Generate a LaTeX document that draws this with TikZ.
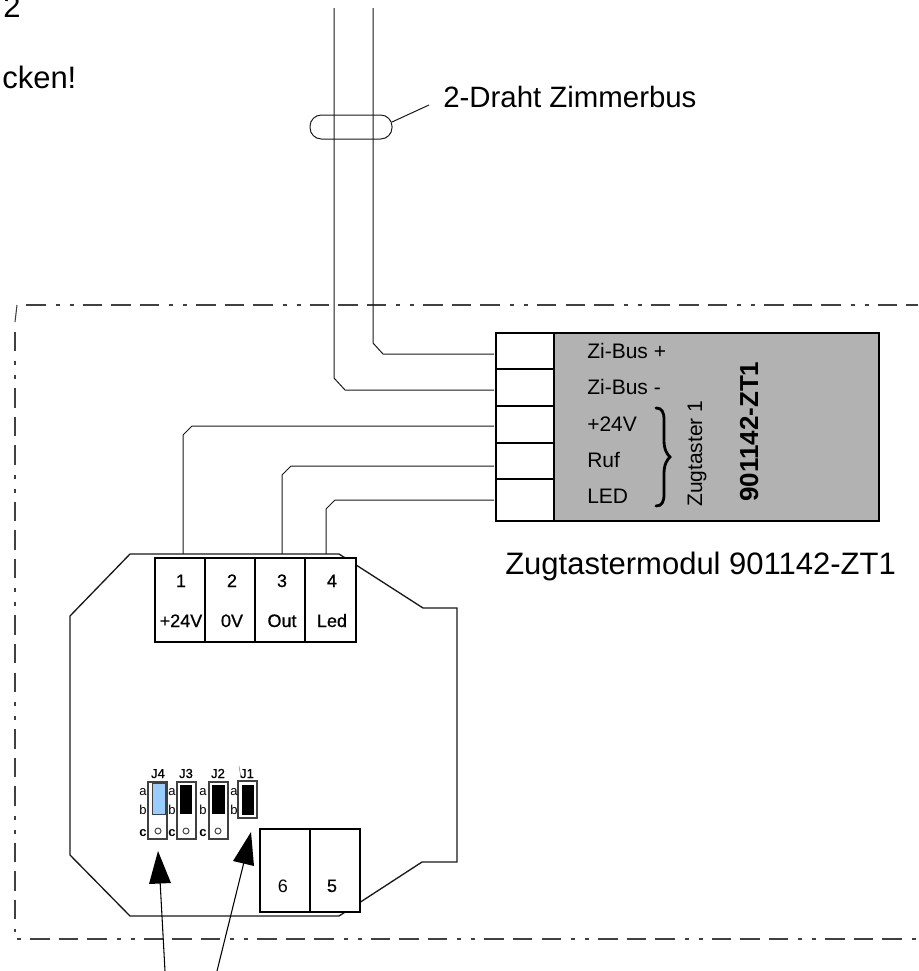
\documentclass[tikz,border=0pt]{standalone}
\usepackage{fontspec}
\setmainfont{Liberation Sans}
\newfontfamily\semifont[FakeBold=0.7]{Liberation Sans}
\newcommand{\pxf}[1]{\fontsize{\dimexpr#1pt*3/4\relax}{\dimexpr#1pt*9/10\relax}\selectfont}
\definecolor{modgray}{HTML}{B2B2B2}
\definecolor{jblue}{HTML}{99CCFF}
\definecolor{linegray}{HTML}{404040}
\tikzset{
  wire/.style={draw=black!90,line width=0.75pt},
  outline/.style={draw=black!90,line width=1pt},
  frameline/.style={draw=linegray,line width=0.8pt,dash pattern=on 14.6pt off 6.8pt on 14.6pt off 6.8pt on 14.6pt off 7.5pt on 3pt off 7.5pt on 3pt off 6.8pt},
  modcell/.style={draw=black,line width=0.8pt,fill=white,inner sep=0pt},
  termcell/.style={draw=black,line width=1.2pt,fill=white,inner sep=0pt},
  txt/.style={inner sep=0pt,anchor=base west},
  ctxt/.style={inner sep=0pt,anchor=base},
  jumper/.style={draw=linegray,line width=1.1pt,fill=white,inner sep=0pt},
  arrowfill/.style={fill=black,draw=none},
  arrowline/.style={draw=black,line width=0.8pt},
}
\begin{document}
\begin{tikzpicture}[x=0.75pt,y=-0.75pt]
\useasboundingbox (0,0) rectangle (918,971);
% frame
\draw[linegray,line width=0.8pt] (17,305) -- (15,322);
\draw[frameline,dash phase=42pt] (25,305) -- (918,305);
\draw[frameline,dash phase=43pt] (15,332) -- (15,932);
\draw[frameline,dash phase=75.4pt] (17,939) -- (918,939);
% header text
\node[txt,font=\pxf{31}] (t2) at (3,17) {2};
\node[txt,font=\pxf{31}] (tcken) at (2,88) {cken!};
% bus
\coordinate (busA) at (334,8);
\coordinate (busB) at (373,8);
\coordinate (wA) at (494,390);
\coordinate (wB) at (494,354);
\draw[wire] (busA) -- (334,378) -- (345,390) -- (wA);
\draw[wire] (busB) -- (373,343) -- (383,354) -- (wB);
\draw[wire,rounded corners=8.5pt] (310,115) rectangle (392,139);
\node[txt,font=\pxf{29.4}] (tbus) at (443,107) {2-Draht Zimmerbus};
\coordinate (loopR) at (392,122);
\coordinate (leadE) at (429,105);
\draw[wire] (loopR) -- (leadE);
% module
\path[fill=modgray,draw=black,line width=0.8pt] (554,333) rectangle (879,521);
\foreach \n/\a/\b in {1/333/369,2/369/406,3/406/443,4/443/479,5/479/521}{
  \draw[modcell] (496,\a) rectangle (554,\b);
}
\node[txt,font=\pxf{21}] (m1) at (587,358) {Zi-Bus +};
\node[txt,font=\pxf{21}] (m2) at (587,394) {Zi-Bus -};
\node[txt,font=\pxf{21}] (m3) at (587,431) {+24V};
\node[txt,font=\pxf{21}] (m4) at (587,467) {Ruf};
\node[txt,font=\pxf{21}] (m5) at (587,503) {LED};
\draw[line width=2.1pt,line cap=round] (656,408) .. controls (662,408) and (664,412) .. (664,420) -- (664,440) .. controls (664,450) and (667,454) .. (670,457) .. controls (667,460) and (664,464) .. (664,474) -- (664,494) .. controls (664,502) and (662,506) .. (656,506);
\node[inner sep=0pt,anchor=base west,rotate=90,font=\pxf{21}] (zt) at (702,507) {Zugtaster 1};
\node[inner sep=0pt,anchor=base west,rotate=90,font=\pxf{26}\bfseries] (zb) at (758,502) {901142-ZT1};
\node[txt,font=\pxf{31}] (tmod) at (505,574) {Zugtastermodul 901142-ZT1};
% wires to board
\coordinate (w3) at (494,426);
\coordinate (w4) at (494,466);
\coordinate (w5) at (494,500);
\coordinate (p1) at (183,554);
\coordinate (p3) at (282,554);
\coordinate (p4) at (326,554);
\draw[wire] (p1) -- (183,435) -- (192,426) -- (w3);
\draw[wire] (p3) -- (282,475) -- (291,466) -- (w4);
\draw[wire] (p4) -- (326,509) -- (335,500) -- (w5);
% board
\draw[outline] (70,616) -- (130,554) -- (339,554) -- (423,608) -- (457,608) -- (457,862) -- (422,862) -- (339,916) -- (130,916) -- (70,855) -- cycle;
% terminals
\draw[termcell] (155,558) rectangle (205,642);
\draw[termcell] (205,558) rectangle (255,642);
\draw[termcell] (255,558) rectangle (305,642);
\draw[termcell] (305,558) rectangle (356,642);
\foreach \x/\n/\l/\i in {181/1/+24V/a,232/2/0V/b,282/3/Out/c,332/4/Led/d}{
  \node[ctxt,font=\semifont\pxf{18}] (tn\i) at (\x,587) {\n};
  \node[ctxt,font=\semifont\pxf{18}] (tl\i) at (\x,627) {\l};
}
% jumpers
\draw[jumper] (148,782) rectangle (167,839);
\fill[jblue,draw=linegray,line width=0.5pt] (152,783) rectangle (165,814);
\draw[jumper] (177,782) rectangle (196,839);
\fill[black] (180,785) rectangle (192,814);
\draw[jumper] (209,782) rectangle (228,839);
\fill[black] (212,785) rectangle (225,814);
\draw[jumper] (238,781) rectangle (257,818);
\fill[black] (242,785) rectangle (254,815);
\foreach \x in {158,186,218}{\draw[linegray,line width=0.7pt] (\x,831) circle (3);}
\foreach \x/\l/\i in {158/J4/a,186/J3/b,218/J2/c,247/J1/d}{
  \node[ctxt,font=\semifont\pxf{13}] (j\i) at (\x,778) {\l};
}
\draw[gray,line width=0.4pt] (239,766) -- (241,778);
\foreach \x/\i in {143/a,172/b,203/c,234/d}{
  \node[ctxt,font=\pxf{13}] (ja\i) at (\x,795) {a};
  \node[ctxt,font=\pxf{13}] (jb\i) at (\x,814) {b};
}
\foreach \x/\i in {143/a,172/b,203/c}{
  \node[ctxt,font=\pxf{13}\bfseries] (jc\i) at (\x,836) {c};
}
% boxes 6,5
\draw[termcell] (260,829) rectangle (310,912);
\draw[termcell] (310,829) rectangle (360,912);
\node[ctxt,font=\pxf{18}] (b6) at (283,892) {6};
\node[ctxt,font=\semifont\pxf{18}] (b5) at (332,892) {5};
% arrows
\coordinate (aL) at (158,851);
\coordinate (aR) at (251,832);
\coordinate (aLe) at (165,971);
\coordinate (aRe) at (217,971);
\draw[arrowline] (aLe) -- (160,880);
\fill[arrowfill] (aL) -- (171,883) -- (149,884) -- cycle;
\draw[arrowline] (aRe) -- (244,862);
\fill[arrowfill] (aR) -- (254,866) -- (233,861) -- cycle;
\end{tikzpicture}
\end{document}
